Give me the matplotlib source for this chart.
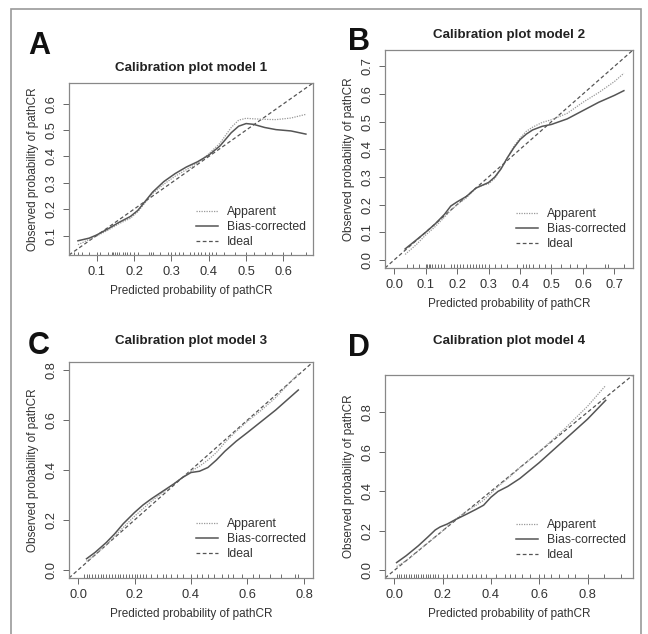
import numpy as np
import matplotlib.pyplot as plt
from matplotlib.lines import Line2D

plt.rcParams['font.family'] = ['Liberation Sans', 'DejaVu Sans']

W, H = 648, 634

# ---- model 1 ----
m1_x = [0.05, 0.08, 0.10, 0.13, 0.16, 0.19, 0.21, 0.23, 0.25, 0.28, 0.31, 0.34, 0.37, 0.40,
        0.43, 0.46, 0.48, 0.50, 0.52, 0.55, 0.58, 0.62, 0.66]
m1_bias = [0.080, 0.090, 0.102, 0.125, 0.150, 0.172, 0.195, 0.230, 0.265, 0.305, 0.335, 0.360,
           0.380, 0.405, 0.440, 0.490, 0.515, 0.525, 0.522, 0.510, 0.502, 0.497, 0.485]
m1_app = [0.065, 0.085, 0.098, 0.120, 0.145, 0.165, 0.190, 0.225, 0.260, 0.295, 0.325, 0.350,
          0.375, 0.410, 0.450, 0.510, 0.538, 0.545, 0.543, 0.541, 0.540, 0.546, 0.560]
m1_rug = [0.04, 0.05, 0.06, 0.08, 0.10, 0.11, 0.13, 0.14, 0.145, 0.15, 0.155, 0.16, 0.17, 0.175,
          0.18, 0.19, 0.20, 0.21, 0.24, 0.245, 0.25, 0.27, 0.29, 0.30, 0.31, 0.32, 0.33, 0.35,
          0.36, 0.37, 0.38, 0.39, 0.40, 0.41, 0.42, 0.44, 0.47, 0.50, 0.52, 0.55, 0.57, 0.60, 0.62, 0.66]

# ---- model 2 ----
m2_x = [0.035, 0.07, 0.10, 0.13, 0.16, 0.18, 0.20, 0.23, 0.26, 0.28, 0.30, 0.32, 0.34, 0.36,
        0.38, 0.40, 0.42, 0.44, 0.47, 0.50, 0.55, 0.60, 0.65, 0.70, 0.73]
m2_bias = [0.040, 0.072, 0.100, 0.130, 0.165, 0.195, 0.210, 0.230, 0.260, 0.270, 0.280, 0.300,
           0.330, 0.370, 0.405, 0.435, 0.455, 0.470, 0.483, 0.490, 0.510, 0.540, 0.570, 0.595, 0.612]
m2_app = [0.020, 0.055, 0.090, 0.120, 0.155, 0.180, 0.200, 0.225, 0.260, 0.270, 0.275, 0.295,
          0.330, 0.370, 0.410, 0.440, 0.465, 0.480, 0.497, 0.507, 0.530, 0.570, 0.605, 0.645, 0.675]
m2_rug = [0.04, 0.06, 0.08, 0.10, 0.105, 0.11, 0.115, 0.12, 0.13, 0.14, 0.15, 0.16, 0.18, 0.19,
          0.20, 0.21, 0.22, 0.23, 0.24, 0.25, 0.26, 0.27, 0.28, 0.29, 0.30, 0.32, 0.34, 0.36,
          0.39, 0.41, 0.42, 0.43, 0.44, 0.46, 0.48, 0.50, 0.53, 0.56, 0.58, 0.61, 0.67, 0.68, 0.73]

# ---- model 3 ----
m3_x = [0.03, 0.06, 0.10, 0.13, 0.16, 0.20, 0.23, 0.26, 0.30, 0.34, 0.37, 0.40, 0.43, 0.46,
        0.49, 0.52, 0.56, 0.60, 0.65, 0.70, 0.78]
m3_bias = [0.045, 0.070, 0.110, 0.145, 0.185, 0.230, 0.260, 0.285, 0.315, 0.345, 0.370, 0.390,
           0.395, 0.410, 0.440, 0.475, 0.515, 0.550, 0.595, 0.640, 0.720]
m3_app = [0.035, 0.060, 0.100, 0.135, 0.170, 0.215, 0.245, 0.275, 0.310, 0.345, 0.370, 0.395,
          0.415, 0.440, 0.470, 0.510, 0.555, 0.595, 0.640, 0.690, 0.785]
m3_rug = [0.02, 0.03, 0.04, 0.05, 0.06, 0.07, 0.08, 0.09, 0.10, 0.11, 0.12, 0.13, 0.14, 0.15,
          0.16, 0.17, 0.18, 0.19, 0.20, 0.21, 0.22, 0.23, 0.24, 0.26, 0.28, 0.30, 0.31, 0.33,
          0.35, 0.37, 0.40, 0.42, 0.44, 0.46, 0.48, 0.51, 0.53, 0.55, 0.58, 0.62, 0.64, 0.68, 0.72, 0.77, 0.78]

# ---- model 4 ----
m4_x = [0.01, 0.05, 0.10, 0.14, 0.17, 0.19, 0.22, 0.25, 0.30, 0.34, 0.37, 0.40, 0.43, 0.47,
        0.52, 0.60, 0.70, 0.80, 0.875]
m4_bias = [0.040, 0.075, 0.125, 0.170, 0.205, 0.220, 0.235, 0.255, 0.285, 0.310, 0.330, 0.370,
           0.400, 0.425, 0.465, 0.545, 0.655, 0.765, 0.860]
m4_app = [0.020, 0.050, 0.100, 0.140, 0.170, 0.190, 0.222, 0.255, 0.300, 0.330, 0.355, 0.390,
          0.425, 0.465, 0.520, 0.600, 0.710, 0.830, 0.935]
m4_rug = [0.01, 0.02, 0.03, 0.04, 0.05, 0.06, 0.07, 0.08, 0.09, 0.10, 0.11, 0.12, 0.13, 0.14,
          0.15, 0.16, 0.17, 0.18, 0.20, 0.22, 0.24, 0.26, 0.28, 0.30, 0.32, 0.34, 0.36, 0.38,
          0.42, 0.46, 0.48, 0.50, 0.53, 0.56, 0.60, 0.62, 0.65, 0.68, 0.72, 0.75, 0.80, 0.87, 0.94]

titles = ['Calibration plot model 1', 'Calibration plot model 2',
          'Calibration plot model 3', 'Calibration plot model 4']
letters = ['A', 'B', 'C', 'D']
lims = [(0.026, 0.679), (-0.029, 0.759), (-0.032, 0.832), (-0.038, 0.988)]
ticks = [[0.1, 0.2, 0.3, 0.4, 0.5, 0.6],
         [0.0, 0.1, 0.2, 0.3, 0.4, 0.5, 0.6, 0.7],
         [0.0, 0.2, 0.4, 0.6, 0.8],
         [0.0, 0.2, 0.4, 0.6, 0.8]]

# axes boxes in pixels: left, right, top, bottom
boxes = [(69, 313, 83, 255), (385, 633, 50, 268), (69, 313, 362, 578), (385, 633, 375, 578)]
letter_pos = [(28, 46), (348, 42), (28, 346), (348, 348)]
title_y = [68, 35, 341, 341]
legend_y = [0.0, 0.05, 0.05, 0.05]

models = [(m1_x, m1_app, m1_bias, m1_rug), (m2_x, m2_app, m2_bias, m2_rug),
          (m3_x, m3_app, m3_bias, m3_rug), (m4_x, m4_app, m4_bias, m4_rug)]

txt = '#333333'
fs = 8.5
fig = plt.figure(figsize=(W / 100, H / 100), dpi=100)
fig.add_artist(plt.Rectangle((11 / W, -0.05), 630 / W, 1.05 - 9 / H, fill=False,
                             ec='#999999', lw=1.2, transform=fig.transFigure))

for i, (x, app, bias, rug) in enumerate(models):
    l, r, t, b = boxes[i]
    ax = fig.add_axes([l / W, 1 - b / H, (r - l) / W, (b - t) / H])
    lo, hi = lims[i]
    ax.plot([lo, hi], [lo, hi], ls=(0, (3, 2)), color='#555555', lw=0.9)
    ax.plot(x, app, ls=(0, (1, 1)), color='#999999', lw=0.9)
    ax.plot(x, bias, ls='-', color='#555555', lw=1.1)
    ax.vlines(rug, 0, 0.02, color='#555555', lw=0.6, transform=ax.get_xaxis_transform())
    ax.set_xlim(lo, hi)
    ax.set_ylim(lo, hi)
    ax.set_xticks(ticks[i])
    ax.set_yticks(ticks[i])
    ax.set_xticklabels([f'{v:.1f}' for v in ticks[i]])
    ax.set_yticklabels([f'{v:.1f}' for v in ticks[i]], rotation=90, va='center')
    ax.tick_params(direction='out', length=4, width=0.7, colors='#666666',
                   labelcolor=txt, labelsize=9.3, pad=4)
    for s in ax.spines.values():
        s.set_color('#888888')
        s.set_linewidth(0.9)
    ax.set_xlabel('Predicted probability of pathCR', fontsize=fs, color=txt, labelpad=5)
    ax.set_ylabel('Observed probability of pathCR', fontsize=fs, color=txt, labelpad=5)
    handles = [Line2D([], [], ls=(0, (1, 1)), color='#999999', lw=0.9),
               Line2D([], [], ls='-', color='#555555', lw=1.1),
               Line2D([], [], ls=(0, (3, 2)), color='#555555', lw=0.9)]
    ax.legend(handles, ['Apparent', 'Bias-corrected', 'Ideal'], loc='lower right',
              bbox_to_anchor=(1.0, legend_y[i]), frameon=False, fontsize=fs + 0.3,
              handlelength=1.8, handletextpad=0.8, labelspacing=0.25, borderaxespad=0.15,
              labelcolor=txt)
    fig.text((l + r) / 2 / W, 1 - title_y[i] / H, titles[i], ha='center', va='center',
             fontsize=9.6, fontweight='bold', color='#222222')
    fig.text(letter_pos[i][0] / W, 1 - letter_pos[i][1] / H, letters[i], ha='left', va='center',
             fontsize=22, fontweight='bold', color='#111111')

fig.savefig('out.png', dpi=100)
